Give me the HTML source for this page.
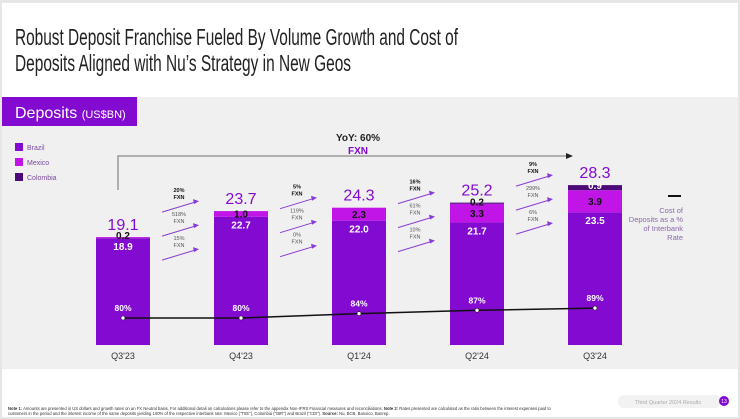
<!DOCTYPE html>
<html><head><meta charset="utf-8"><style>
html,body{margin:0;padding:0;background:#fff;}
svg{display:block;font-family:"Liberation Sans",sans-serif;}
</style></head><body>
<svg id="c" width="740" height="419" viewBox="0 0 740 419" xmlns="http://www.w3.org/2000/svg">
<rect x="0" y="0" width="740" height="419" fill="#e6e6e6"/>
<rect x="2" y="3" width="736" height="414" fill="#ffffff"/>
<text x="15" y="45" font-size="23" fill="#222" textLength="443" lengthAdjust="spacingAndGlyphs">Robust Deposit Franchise Fueled By Volume Growth and Cost of</text>
<text x="15" y="71" font-size="23" fill="#222" textLength="336" lengthAdjust="spacingAndGlyphs">Deposits Aligned with Nu’s Strategy in New Geos</text>
<rect x="2" y="97" width="736" height="272" fill="#f0f0f0"/>
<rect x="2" y="97" width="135" height="29" fill="#820ad1"/>
<text x="15" y="118" font-size="16" fill="#fff">Deposits <tspan font-size="11">(US$BN)</tspan></text>
<g>
<rect x="15" y="143" width="8" height="8" fill="#820ad1"/>
<text x="27" y="150" font-size="7" fill="#7a4aa0">Brazil</text>
<rect x="15" y="158" width="8" height="8" fill="#c114e6"/>
<text x="27" y="165" font-size="7" fill="#7a4aa0">Mexico</text>
<rect x="15" y="173" width="8" height="8" fill="#4b0a78"/>
<text x="27" y="180" font-size="7" fill="#7a4aa0">Colombia</text>
</g>
<g>
<polyline points="118,190 118,156 568,156" fill="none" stroke="#999" stroke-width="1.5"/>
<polygon points="566,153 573,156 566,159" fill="#222"/>
<text x="358" y="141" font-size="10" font-weight="bold" fill="#222" text-anchor="middle">YoY: 60%</text>
<text x="358" y="154" font-size="10" font-weight="bold" fill="#820ad1" text-anchor="middle">FXN</text>
</g>
<g>
<line x1="668" y1="196" x2="681" y2="196" stroke="#111" stroke-width="2"/>
<text font-size="7.5" fill="#8a6aa8" text-anchor="end"><tspan x="683" y="213">Cost of</tspan><tspan x="683" y="222">Deposits as a %</tspan><tspan x="683" y="231">of Interbank</tspan><tspan x="683" y="240">Rate</tspan></text>
</g>
<g id="bars"></g>
<g id="growth"></g>
<g id="line"></g>
<text x="8" y="410" font-size="4.2" fill="#333"><tspan font-weight="bold">Note 1:</tspan> Amounts are presented in US dollars and growth rates on an FX Neutral basis. For additional detail on calculations please refer to the appendix Non-IFRS Financial measures and reconciliations. <tspan font-weight="bold">Note 2:</tspan> Rates presented are calculated as the ratio between the interest expenses paid to</text>
<text x="8" y="415" font-size="4.2" fill="#333">customers in the period and the interest income of the same deposits yielding 100% of the respective interbank rate: Mexico ("TIIE"), Colombia ("IBR") and Brazil ("CDI"). <tspan font-weight="bold">Source:</tspan> Nu, BCB, Banxico, Banrep.</text>
<rect x="618" y="395" width="103" height="13" rx="6" fill="#f2f2f2"/>
<text x="668" y="404" font-size="5.5" fill="#aaa" text-anchor="middle">Third Quarter 2024 Results</text>
<circle cx="724" cy="401" r="5" fill="#820ad1"/>
<text x="724" y="403" font-size="5" fill="#fff" text-anchor="middle">13</text>
</svg>
<script>
const categories = ["Q3'23","Q4'23","Q1'24","Q2'24","Q3'24"];
const brazil = [18.9,22.7,22.0,21.7,23.5];
const mexico = [0.2,1.0,2.3,3.3,3.9];
const colombia = [0,0,0,0.2,0.9];
const totals = ["19.1","23.7","24.3","25.2","28.3"];
const costPct = [80,80,84,87,89];
const growthTop = ["20%","5%","16%","9%"];
const growthMid = ["518%","119%","61%","299%"];
const growthLow = ["15%","0%","10%","6%"];

const NS="http://www.w3.org/2000/svg";
const x0=123, dx=118.0, barW=54, base=345, k=5.65;
const xC=i=>x0+i*dx;
const yV=v=>base-v*k;
const yP=p=>318-(p-80)*1.1;
function mk(tag,attrs,parent){const e=document.createElementNS(NS,tag);for(const a in attrs)e.setAttribute(a,attrs[a]);parent.appendChild(e);return e;}
const gb=document.getElementById('bars');
categories.forEach((c,i)=>{
  const cx=xC(i), l=cx-barW/2;
  const b=brazil[i], m=mexico[i], co=colombia[i];
  let r=mk('rect',{x:l,y:yV(b),width:barW,height:b*k,fill:'#820ad1'},gb);
  
  
  r=mk('rect',{x:l,y:yV(b+m),width:barW,height:m*k,fill:'#c114e6'},gb);
  
  
  if(co>0){
    r=mk('rect',{x:l,y:yV(b+m+co),width:barW,height:co*k,fill:'#4b0a78'},gb);
    
    
  }
  const top=yV(b+m+co);
  let t=mk('text',{x:cx,y:top-7,'font-size':16,fill:'#820ad1','text-anchor':'middle'},gb);t.textContent=totals[i];
  
  
  t=mk('text',{x:cx,y:yV(b)+12,'font-size':10,'font-weight':'bold',fill:'#fff','text-anchor':'middle'},gb);t.textContent=b.toFixed(1);
  
  
  t=mk('text',{x:cx,y:(m*k<10)?yV(b)+1:yV(b)-(m*k)/2+4,'font-size':10,'font-weight':'bold',fill:'#111','text-anchor':'middle'},gb);t.textContent=m.toFixed(1);
  
  
  if(co>0){
    t=mk('text',{x:cx,y:top+(co*k<4?3:co*k-1),'font-size':10,'font-weight':'bold',fill:co*k<4?'#111':'#fff','text-anchor':'middle'},gb);t.textContent=co.toFixed(1);
    
    
  }
  t=mk('text',{x:cx,y:359,'font-size':9,fill:'#333','text-anchor':'middle'},gb);t.textContent=c;
  
  
});
const gg=document.getElementById('growth');
growthTop.forEach((g,i)=>{
  const mx=(xC(i)+xC(i+1))/2;
  const topY=yV(Math.max(brazil[i]+mexico[i]+colombia[i],brazil[i+1]+mexico[i+1]+colombia[i+1]))-14;
  const rows=[[growthTop[i],true],[growthMid[i],false],[growthLow[i],false]];
  rows.forEach((r,j)=>{
    const ay=topY+4+j*24;
    mk('line',{x1:mx-20,y1:ay+11,x2:mx+13,y2:ay+1,stroke:'#8a3ad6','stroke-width':1},gg);
    mk('polygon',{points:`${mx+17},${ay} ${mx+11},${ay-2} ${mx+12},${ay+3}`,fill:'#8a3ad6'},gg);
    let t=mk('text',{x:mx-3,y:ay-9,'font-size':5.5,'font-weight':r[1]?'bold':'normal',fill:r[1]?'#111':'#555','text-anchor':'middle'},gg);
    t.textContent=r[0];
    
    
    t=mk('text',{x:mx-3,y:ay-2,'font-size':5.5,'font-weight':r[1]?'bold':'normal',fill:r[1]?'#111':'#555','text-anchor':'middle'},gg);
    t.textContent='FXN';
  });
});
const gl=document.getElementById('line');
const pl=mk('polyline',{points:costPct.map((p,i)=>xC(i)+','+yP(p)).join(' '),fill:'none',stroke:'#111','stroke-width':1.5},gl);


costPct.forEach((p,i)=>{
  let c=mk('circle',{cx:xC(i),cy:yP(p),r:2,fill:'#fff',stroke:'#111','stroke-width':0.6},gl);
  
  
  let t=mk('text',{x:xC(i),y:yP(p)-7,'font-size':8.5,'font-weight':'bold',fill:'#fff','text-anchor':'middle'},gl);
  t.textContent=p+'%';
  
  
});
</script>
</body></html>
